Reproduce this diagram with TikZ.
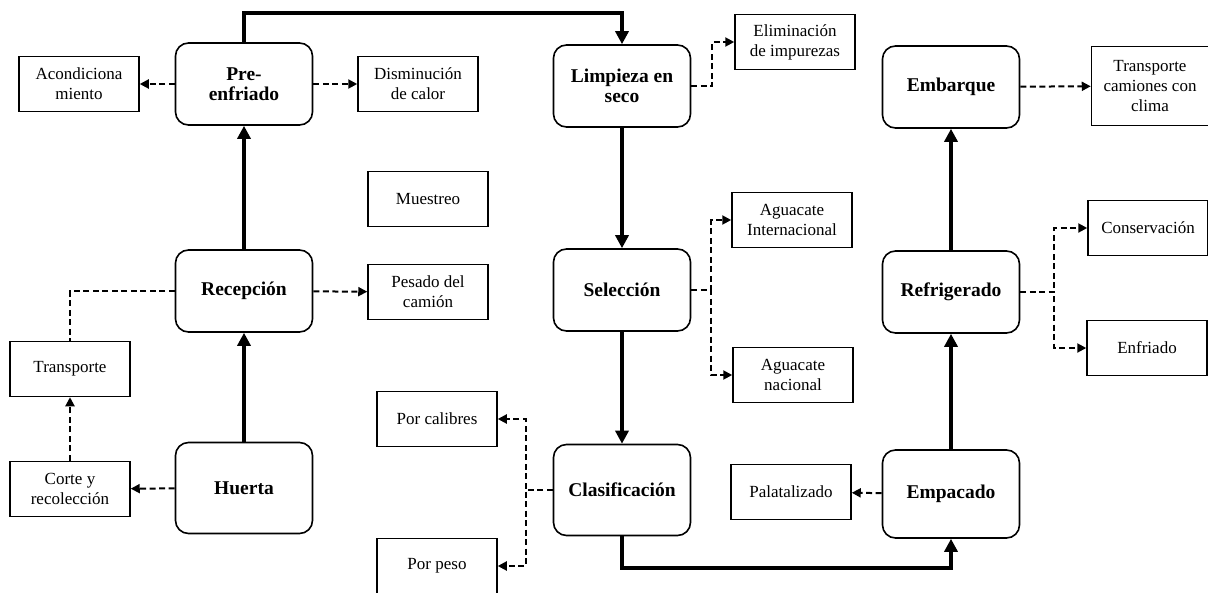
\documentclass[tikz,border=0pt]{standalone}
\usepackage{fontspec}
\setmainfont{Liberation Serif}
\usetikzlibrary{arrows.meta}

\tikzset{
  etapa/.style={draw, rounded corners=13pt, line width=1.6pt, minimum width=137pt,
    minimum height=82pt, align=center, font=\bfseries\fontsize{19.5}{20}\selectfont},
  nota/.style={draw, line width=1.5pt, minimum width=120pt, minimum height=55pt,
    align=center, font=\fontsize{17}{20}\selectfont},
  flujo/.style={line width=4.5pt, -{Triangle[length=13pt,width=13pt]}},
  rama/.style={line width=2pt, dash pattern=on 6pt off 3.5pt},
  ramaf/.style={rama, -{Triangle[length=9pt,width=9pt]}}
}

\begin{document}
\begin{tikzpicture}[x=1pt,y=-1pt]
\useasboundingbox (0,0) rectangle (1208,592);

%Etapas
\node[etapa] (prefrio) at (244,84) {Pre-\\enfriado};
\node[etapa] (recep) at (244,291) {Recepción};
\node[etapa, minimum height=91pt] (huerta) at (244,488) {Huerta};
\node[etapa] (limpia) at (622,86) {Limpieza en\\seco};
\node[etapa] (selec) at (622,290) {Selección};
\node[etapa, minimum height=91pt] (clasif) at (622,490) {Clasificación};
\node[etapa] (embarq) at (951,87) {Embarque};
\node[etapa] (refrig) at (951,292) {Refrigerado};
\node[etapa, minimum height=88pt] (empaca) at (951,494) {Empacado};

%Notas
\node[nota] (acond) at (79,84) {Acondiciona\\miento};
\node[nota] (dismin) at (418,84) {Disminución\\de calor};
\node[nota] (elimin) at (795,42) {Eliminación\\de impurezas};
\node[nota, minimum width=117pt, minimum height=79pt] (camion) at (1150,86) {Transporte\\camiones con\\clima};
\node[nota] (muestra) at (428,199) {Muestreo};
\node[nota] (pesado) at (428,292) {Pesado del\\camión};
\node[nota] (aginter) at (792,220) {Aguacate\\Internacional};
\node[nota] (agnac) at (793,375) {Aguacate\\nacional};
\node[nota] (calibre) at (437,419) {Por calibres};
\node[nota] (peso) at (437,566) {Por peso};
\node[nota] (palet) at (791,492) {Palatalizado};
\node[nota] (conserva) at (1148,228) {Conservación};
\node[nota] (enfria) at (1147,348) {Enfriado};
\node[nota] (transp) at (70,369) {Transporte};
\node[nota] (corte) at (70,489) {Corte y\\recolección};

%Flujo principal
\draw[flujo] (huerta) -- (recep);
\draw[flujo] (recep) -- (prefrio);
\draw[flujo] (prefrio.north) |- (622,13) -- (limpia.north);
\draw[flujo] (limpia) -- (selec);
\draw[flujo] (selec) -- (clasif);
\draw[flujo] (clasif.south) |- (951,568) -- (empaca.south);
\draw[flujo] (empaca) -- (refrig);
\draw[flujo] (refrig) -- (embarq);

%Ramas
\draw[ramaf] (prefrio) -- (acond);
\draw[ramaf] (prefrio) -- (dismin);
\draw[ramaf] (limpia.east) -- ++(21,0) |- (elimin.west);
\draw[rama] (recep.west) -| (transp.north);
\draw[ramaf] (recep) -- (pesado);
\draw[ramaf] (corte) -- (transp);
\draw[ramaf] (huerta) -- (corte);
\draw[ramaf] (selec.east) -- ++(20,0) |- (aginter.west);
\draw[ramaf] (selec.east) -- ++(20,0) |- (agnac.west);
\draw[ramaf] (clasif.west) -- ++(-27,0) |- (calibre.east);
\draw[ramaf] (clasif.west) -- ++(-27,0) |- (peso.east);
\draw[ramaf] (empaca) -- (palet);
\draw[ramaf] (refrig.east) -- ++(34,0) |- (conserva.west);
\draw[ramaf] (refrig.east) -- ++(34,0) |- (enfria.west);
\draw[ramaf] (embarq) -- (camion);

\end{tikzpicture}
\end{document}
